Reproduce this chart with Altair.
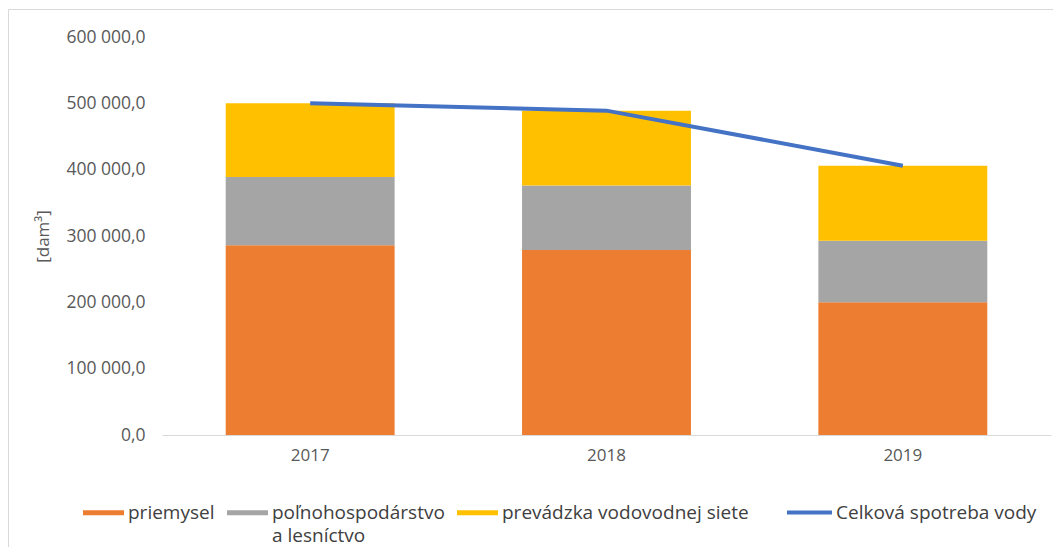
import altair as alt
import pandas as pd

# ---- data ----
years = ["2017", "2018", "2019"]
priemysel = [286000, 279000, 200000]
polnohospodarstvo = [103000, 97000, 93000]
prevadzka = [111000, 113000, 113000]
celkova = [500000, 489000, 406000]

categories = ["priemysel", "poľnohospodárstvo a lesníctvo", "prevádzka vodovodnej siete"]
colors = ["#ED7D31", "#A5A5A5", "#FFC000"]
line_name = "Celková spotreba vody"
line_color = "#4472C4"
y_ticks = [0, 100000, 200000, 300000, 400000, 500000, 600000]

rows = []
series = [priemysel, polnohospodarstvo, prevadzka]
for i, yr in enumerate(years):
    for j, cat in enumerate(categories):
        rows.append({"rok": yr, "kategoria": cat, "hodnota": series[j][i], "poradie": j})
bars_df = pd.DataFrame(rows)
line_df = pd.DataFrame({"rok": years, "hodnota": celkova, "nazov": [line_name] * len(years)})

FONT = "Open Sans"
TICK_COLOR = "#595959"
LEG_COLOR = "#404040"
num_expr = "replace(replace(format(datum.value, ',.1f'), ',', ' '), '.', ',')"
leg_expr = ("datum.label == 'poľnohospodárstvo a lesníctvo' ? "
            "['poľnohospodárstvo', 'a lesníctvo'] : [datum.label, '']")

x_enc = alt.X(
    "rok:N",
    scale=alt.Scale(paddingInner=0.43, paddingOuter=0.215),
    axis=alt.Axis(title=None, labelAngle=0, ticks=False, domainColor="#D9D9D9",
                  domainWidth=1, labelPadding=12, labelFontSize=17,
                  labelColor=TICK_COLOR, labelFont=FONT),
)

bars = alt.Chart(bars_df).mark_bar().encode(
    x=x_enc,
    y=alt.Y(
        "hodnota:Q",
        stack="zero",
        scale=alt.Scale(domain=[0, 600000]),
        axis=alt.Axis(values=y_ticks, labelExpr=num_expr, grid=False, domain=False,
                      ticks=False, labelPadding=17, labelFontSize=17.5,
                      labelColor=TICK_COLOR, labelFont=FONT,
                      title="[dam³]", titleFont=FONT, titleFontSize=17,
                      titleFontWeight="normal", titleColor=TICK_COLOR, titlePadding=13),
    ),
    fill=alt.Fill(
        "kategoria:N",
        scale=alt.Scale(domain=categories, range=colors),
        legend=alt.Legend(
            title=None, orient="none", legendX=-79, legendY=455, direction="horizontal",
            symbolType="M-1,-0.125H1V0.125H-1Z", symbolSize=1681, symbolStrokeWidth=0,
            symbolOpacity=1, labelFont=FONT, labelFontSize=19, labelColor=LEG_COLOR,
            labelOffset=4, columnPadding=12, labelExpr=leg_expr, labelLimit=0,
            labelBaseline="middle",
        ),
    ),
    order=alt.Order("poradie:Q"),
)

line = alt.Chart(line_df).mark_line(strokeWidth=4).encode(
    x=alt.X("rok:N"),
    y=alt.Y("hodnota:Q"),
    stroke=alt.Stroke(
        "nazov:N",
        scale=alt.Scale(domain=[line_name], range=[line_color]),
        legend=alt.Legend(
            title=None, orient="none", legendX=623, legendY=451,
            symbolType="stroke", symbolSize=2025, symbolStrokeWidth=4,
            labelFont=FONT, labelFontSize=19, labelColor=LEG_COLOR, labelOffset=2,
            labelLimit=0, labelExpr="[datum.label, '']", labelBaseline="middle",
        ),
    ),
)

frame = alt.Chart(pd.DataFrame({"f": [0]})).mark_rect(
    filled=False, stroke="#D9D9D9", strokeWidth=1
).encode(
    x=alt.value(-153.5), x2=alt.value(1000), y=alt.value(-27.5), y2=alt.value(700)
)

chart = alt.layer(frame, bars, line).resolve_scale(
    fill="independent", stroke="independent"
).properties(
    width=889,
    height=398,
    autosize=alt.AutoSizeParams(type="none"),
    padding={"left": 154, "top": 29, "right": 2, "bottom": 112},
).configure(
    background="white",
    view=alt.ViewConfig(stroke=None),
    style={"guide-label": {"lineHeight": 23}},
)

chart.save("out.html", embed_options={"renderer": "svg", "actions": False})
